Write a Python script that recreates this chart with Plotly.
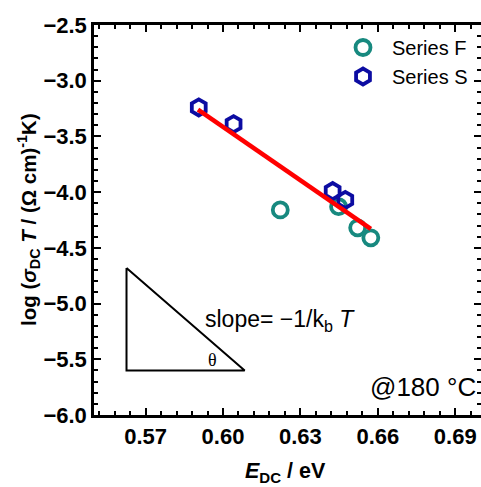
import plotly.graph_objects as go

# ---- data ----
series_f_x = [0.6222, 0.6448, 0.6522, 0.6573]
series_f_y = [-4.16, -4.13, -4.32, -4.41]
series_s_x = [0.5906, 0.6041, 0.6425, 0.6474]
series_s_y = [-3.24, -3.39, -3.99, -4.07]
fit_x = [0.5903, 0.6573]
fit_y = [-3.26, -4.33]
triangle_x = [0.5626, 0.5626, 0.6084, 0.5626]
triangle_y = [-4.68, -5.60, -5.60, -4.68]
x_range = [0.55, 0.70]
y_range = [-6.0, -2.5]

TEAL = "#17897f"
BLUE = "#0c0ca2"
FONT = "Arial, Liberation Sans, sans-serif"

W, H = 481, 487
ML, MR, MT, MB = 94, 0, 25, 72


def px_x(p):
    return (p - ML) / (W - ML - MR)


def px_y(p):
    return 1 - (p - MT) / (H - MT - MB)


fig = go.Figure()
fig.add_trace(go.Scatter(
    x=triangle_x, y=triangle_y, mode="lines",
    line=dict(color="black", width=2), showlegend=False, hoverinfo="skip"))
fig.add_trace(go.Scatter(
    x=series_f_x, y=series_f_y, mode="markers", name="Series F",
    marker=dict(symbol="circle-open", size=15, color=TEAL, line=dict(width=3.8, color=TEAL))))
fig.add_trace(go.Scatter(
    x=series_s_x, y=series_s_y, mode="markers", name="Series S",
    marker=dict(symbol="hexagon-open", size=16, color=BLUE, line=dict(width=3.8, color=BLUE))))
fig.add_trace(go.Scatter(
    x=fit_x, y=fit_y, mode="lines", line=dict(color="#ff0000", width=4.5),
    showlegend=False, hoverinfo="skip"))

axis_common = dict(
    showline=True, linecolor="black", linewidth=2.5, mirror="ticks",
    ticks="inside", ticklen=7, tickwidth=2, tickcolor="black",
    showgrid=False, zeroline=False, automargin=False,
    tickfont=dict(family=FONT, size=22, color="black", weight="bold"),
)

fig.update_xaxes(
    range=x_range, dtick=0.03, tickformat=".2f",
    minor=dict(dtick=0.006, ticks="inside", ticklen=4, tickwidth=2, tickcolor="black"),
    **axis_common)
fig.update_yaxes(
    range=y_range, dtick=0.5, tickformat=".1f",
    minor=dict(dtick=0.1, ticks="inside", ticklen=4, tickwidth=2, tickcolor="black"),
    **axis_common)

# axis titles as annotations
fig.add_annotation(x=px_x(28), y=px_y(220), xref="paper", yref="paper",
                   text="<b>log (<i>σ</i><sub>DC</sub> <i>T</i> / (Ω cm)<sup>-1</sup>K)</b>",
                   textangle=-90, showarrow=False, xanchor="center", yanchor="middle",
                   font=dict(family=FONT, size=20.5, color="black"))
fig.add_annotation(x=px_x(243), y=px_y(473), xref="paper", yref="paper",
                   text="<b><i>E</i><sub>DC</sub> / eV</b>",
                   showarrow=False, xanchor="left", yanchor="middle",
                   font=dict(family=FONT, size=21.5, color="black"))

fig.add_annotation(x=0.5958, y=-5.51, xref="x", yref="y", text="θ", showarrow=False,
                   font=dict(family="Liberation Serif, Times New Roman, serif", size=18, color="black"))
fig.add_annotation(x=px_x(203), y=px_y(320), xref="paper", yref="paper",
                   text="slope= −1/k<sub>b</sub> <i>T</i>",
                   showarrow=False, xanchor="left", yanchor="middle",
                   font=dict(family=FONT, size=23, color="black"))
fig.add_annotation(x=px_x(478), y=px_y(387), xref="paper", yref="paper", text="@180 °C",
                   showarrow=False, xanchor="right", yanchor="middle",
                   font=dict(family=FONT, size=26, color="black"))

fig.update_layout(
    width=W, height=H,
    margin=dict(l=ML, r=MR, t=MT, b=MB, pad=0),
    paper_bgcolor="white", plot_bgcolor="white",
    font=dict(family=FONT, color="black"),
    legend=dict(x=px_x(334), y=px_y(28),
                xanchor="left", yanchor="top", bgcolor="rgba(0,0,0,0)",
                font=dict(family=FONT, size=20, color="black"), itemwidth=48,
                tracegroupgap=0),
)

fig.write_html("out.html")
